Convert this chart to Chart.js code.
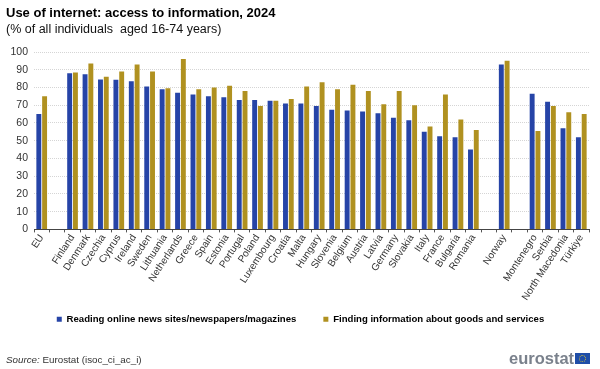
<!DOCTYPE html>
<html>
<head>
<meta charset="utf-8">
<script src="https://cdn.jsdelivr.net/npm/chart.js@4"></script>
<style>
    html, body { margin: 0; padding: 0; background: #fff; }
    #wrap { position: relative; width: 600px; height: 369px; overflow: hidden; font-family: "Liberation Sans", Arial, sans-serif; }
    #title { position: absolute; left: 6px; top: 5px; font-size: 13px; font-weight: bold; color: #000; white-space: pre; }
    #subtitle { position: absolute; left: 6px; top: 22px; font-size: 12.5px; color: #111; white-space: pre; }
    #source { position: absolute; left: 6px; top: 354px; font-size: 9.8px; color: #333; white-space: nowrap; }
    #logo { position: absolute; left: 509px; top: 349px; font-size: 16.5px; font-weight: bold; color: #7a818c; white-space: nowrap; }
    #flag { position: absolute; left: 575px; top: 353px; width: 15px; height: 11px; background: #1f4ea8; }
    #flag div { position: absolute; left: 4px; top: 2px; width: 5px; height: 5px; border: 1px dotted #c9b840; border-radius: 50%; }
    canvas { position: absolute; left: 0; top: 0; }
</style>
</head>
<body>
<div id="wrap">
    <canvas id="chart" width="600" height="369"></canvas>
    <div id="title">Use of internet: access to information, 2024</div>
    <div id="subtitle">(% of all individuals  aged 16-74 years)</div>
    <div id="source"><i>Source:</i> Eurostat (isoc_ci_ac_i)</div>
    <div id="logo">eurostat</div>
    <div id="flag"><div></div></div>
</div>
<script>
const categories = ['EU', '', 'Finland', 'Denmark', 'Czechia', 'Cyprus', 'Ireland', 'Sweden', 'Lithuania', 'Netherlands', 'Greece', 'Spain', 'Estonia', 'Portugal', 'Poland', 'Luxembourg', 'Croatia', 'Malta', 'Hungary', 'Slovenia', 'Belgium', 'Austria', 'Latvia', 'Germany', 'Slovakia', 'Italy', 'France', 'Bulgaria', 'Romania', ' ', 'Norway', '  ', 'Montenegro', 'Serbia', 'North Macedonia', 'Türkiye'];
const readingNews = [65, null, 88, 87.5, 84.5, 84.3, 83.5, 80.5, 79, 77, 76, 75, 74.5, 73, 73, 72.5, 71, 71, 69.5, 67.5, 67, 66.5, 65.5, 63, 61.5, 55, 52.5, 52, 45, null, 93, null, 76.5, 72, 57, 52];
const findingInfo = [75, null, 88.5, 93.5, 86, 89, 93, 89, 79.5, 96, 79, 80, 81, 78, 69.5, 72.5, 73.5, 80.5, 83, 79, 81.5, 78, 70.5, 78, 70, 58, 76, 62, 56, null, 95, null, 55.5, 69.5, 66, 65];
const yTicks = [0, 10, 20, 30, 40, 50, 60, 70, 80, 90, 100];

// legend sits a bit right of the plot centre in the original,
// and the x axis box has to be taller or the long labels get clipped
const fixLayout = {
    id: 'fixLayout',
    afterLayout(chart) {
        chart.legend.left += 6;
        chart.legend.right += 6;
        chart.scales.x.bottom += 30;
    }
};

new Chart(document.getElementById('chart').getContext('2d'), {
    type: 'bar',
    data: {
        labels: categories,
        datasets: [
            { label: 'Reading online news sites/newspapers/magazines', data: readingNews, backgroundColor: '#2644A7' },
            { label: 'Finding information about goods and services', data: findingInfo, backgroundColor: '#B09120' }
        ]
    },
    plugins: [fixLayout],
    options: {
        responsive: false,
        animation: false,
        datasets: { bar: { categoryPercentage: 0.75, barPercentage: 0.85 } },
        layout: { padding: { top: 52, left: 0, right: 11, bottom: 35 } },
        plugins: {
            tooltip: { enabled: false },
            legend: {
                position: 'bottom',
                labels: {
                    boxWidth: 5,
                    boxHeight: 5,
                    padding: 27,
                    color: '#000',
                    font: { family: '"Liberation Sans", Arial, sans-serif', size: 9.6, weight: 'bold' }
                }
            }
        },
        scales: {
            x: {
                afterFit: axis => { axis.height = 58; },
                grid: { offset: true, drawOnChartArea: false, drawTicks: true, tickLength: 3, color: '#555' },
                border: { color: '#444' },
                ticks: {
                    autoSkip: false,
                    minRotation: 57,
                    maxRotation: 57,
                    padding: 0,
                    color: '#333',
                    font: { family: '"Liberation Sans", Arial, sans-serif', size: 10 }
                }
            },
            y: {
                min: 0,
                max: 100,
                afterBuildTicks: axis => { axis.ticks = yTicks.map(v => ({ value: v })); },
                afterFit: axis => { axis.width = 34; },
                grid: { color: '#d5d5d5', drawTicks: false },
                border: { display: false, dash: [1, 1] },
                ticks: {
                    autoSkip: false,
                    padding: 6,
                    color: '#333',
                    font: { family: '"Liberation Sans", Arial, sans-serif', size: 10.5 }
                }
            }
        }
    }
});
</script>
</body>
</html>
